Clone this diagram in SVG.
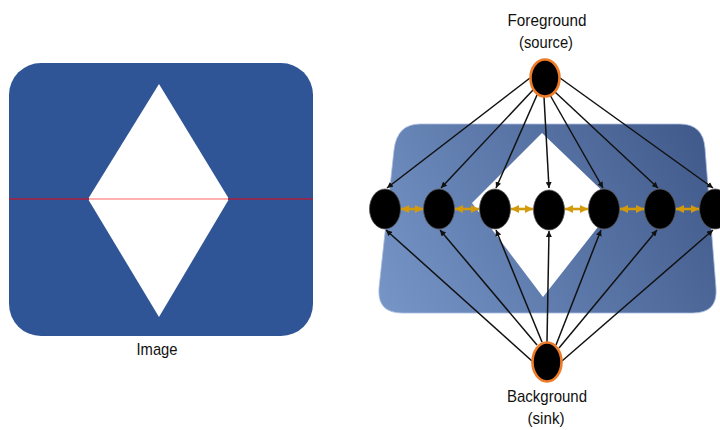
<svg xmlns="http://www.w3.org/2000/svg" width="720" height="430" viewBox="0 0 720 430">
  <style>
    .lbl { font-family: "Liberation Sans", Arial, sans-serif; font-size: 17px; fill: #111; text-anchor: middle; }
    .edge { stroke: #111; stroke-width: 1.5; fill: none; marker-end: url(#arr); }
    .nbr { stroke: #d39a0c; stroke-width: 2.6; fill: none; marker-start: url(#garrS); marker-end: url(#garr); }
    .pix { fill: #000; stroke: #555; stroke-width: 0.8; }
    .term { fill: #000; stroke: #ee7b27; stroke-width: 2.6; }
  </style>
  <defs>
    <linearGradient id="warp" gradientUnits="userSpaceOnUse" x1="378" y1="313" x2="718" y2="124">
      <stop offset="0" stop-color="#7796c8"/>
      <stop offset="1" stop-color="#3e5788"/>
    </linearGradient>
    <marker id="arr" viewBox="0 0 10 10" refX="10" refY="5" markerWidth="6" markerHeight="6" markerUnits="userSpaceOnUse" orient="auto">
      <path d="M0,0 L10,5 L0,10 Z" fill="#111"/>
    </marker>
    <marker id="garr" viewBox="0 0 10 10" refX="10" refY="5" markerWidth="8" markerHeight="8" markerUnits="userSpaceOnUse" orient="auto">
      <path d="M0,0 L10,5 L0,10 Z" fill="#d39a0c"/>
    </marker>
    <marker id="garrS" viewBox="0 0 10 10" refX="0" refY="5" markerWidth="8" markerHeight="8" markerUnits="userSpaceOnUse" orient="auto">
      <path d="M10,0 L0,5 L10,10 Z" fill="#d39a0c"/>
    </marker>
  </defs>

  <!-- input image with scanline -->
  <g id="image">
    <rect x="9" y="63" width="304" height="273" rx="32" ry="32" fill="#2f5596"/>
    <polygon points="159,84 229,199 159,317 88,199" fill="#ffffff"/>
    <line x1="9" y1="199" x2="313" y2="199" stroke="#8b2c55" stroke-width="2"/>
    <line x1="89" y1="199" x2="228" y2="199" stroke="#ffb0b0" stroke-width="2"/>
    <text class="lbl" x="157" y="355" textLength="41" lengthAdjust="spacingAndGlyphs">Image</text>
  </g>

  <!-- warped image behind the graph -->
  <g id="backdrop">
    <path d="M420,124 L680,124 Q703,124 705,148 L716,288 Q718,313 693,313 L402,313 Q377,313 379,288 L394,150 Q397,124 420,124 Z" fill="url(#warp)" stroke="#a9bddd" stroke-width="0.8"/>
    <polygon points="542,133 616,204 543,297 472,203" fill="#ffffff"/>
  </g>

  <!-- connectors -->
  <g id="connectors">
    <line class="edge" x1="530" y1="78" x2="387" y2="188"/>
    <line class="edge" x1="533" y1="90" x2="441" y2="188"/>
    <line class="edge" x1="537" y1="95" x2="496" y2="188"/>
    <line class="edge" x1="544" y1="97" x2="549" y2="188"/>
    <line class="edge" x1="550" y1="95" x2="603" y2="188"/>
    <line class="edge" x1="555" y1="92" x2="658" y2="188"/>
    <line class="edge" x1="560" y1="78" x2="713" y2="188"/>

    <line class="edge" x1="532" y1="361" x2="386" y2="230"/>
    <line class="edge" x1="537" y1="345" x2="440" y2="230"/>
    <line class="edge" x1="542" y1="342" x2="496" y2="230"/>
    <line class="edge" x1="547" y1="342" x2="549" y2="231"/>
    <line class="edge" x1="556" y1="345" x2="601" y2="230"/>
    <line class="edge" x1="559" y1="348" x2="657" y2="230"/>
    <line class="edge" x1="562" y1="361" x2="713" y2="230"/>

    <line class="nbr" x1="401" y1="209" x2="423" y2="209"/>
    <line class="nbr" x1="455" y1="209" x2="479" y2="209"/>
    <line class="nbr" x1="511" y1="209" x2="533" y2="209"/>
    <line class="nbr" x1="565" y1="209" x2="588" y2="209"/>
    <line class="nbr" x1="620" y1="209" x2="644" y2="209"/>
    <line class="nbr" x1="676" y1="209" x2="699" y2="209"/>
  </g>

  <!-- pixel nodes -->
  <g id="p1"><ellipse class="pix" cx="385" cy="209" rx="15.5" ry="20"/></g>
  <g id="p2"><ellipse class="pix" cx="439" cy="209" rx="15.5" ry="20"/></g>
  <g id="p3"><ellipse class="pix" cx="495" cy="209" rx="15.5" ry="20"/></g>
  <g id="p4"><ellipse class="pix" cx="549" cy="210" rx="15.5" ry="20"/></g>
  <g id="p5"><ellipse class="pix" cx="604" cy="209" rx="15.5" ry="20"/></g>
  <g id="p6"><ellipse class="pix" cx="660" cy="209" rx="15.5" ry="20"/></g>
  <g id="p7"><ellipse class="pix" cx="715" cy="209" rx="15.5" ry="20"/></g>

  <!-- terminals -->
  <g id="source">
    <ellipse class="term" cx="545" cy="78" rx="14.5" ry="18.5"/>
    <text class="lbl" x="547" y="26" textLength="79" lengthAdjust="spacingAndGlyphs">Foreground</text>
    <text class="lbl" x="546" y="48" textLength="54" lengthAdjust="spacingAndGlyphs">(source)</text>
  </g>
  <g id="sink">
    <ellipse class="term" cx="547" cy="362" rx="14.5" ry="19.5"/>
    <text class="lbl" x="547" y="402" textLength="80" lengthAdjust="spacingAndGlyphs">Background</text>
    <text class="lbl" x="546" y="424" textLength="37" lengthAdjust="spacingAndGlyphs">(sink)</text>
  </g>
</svg>
